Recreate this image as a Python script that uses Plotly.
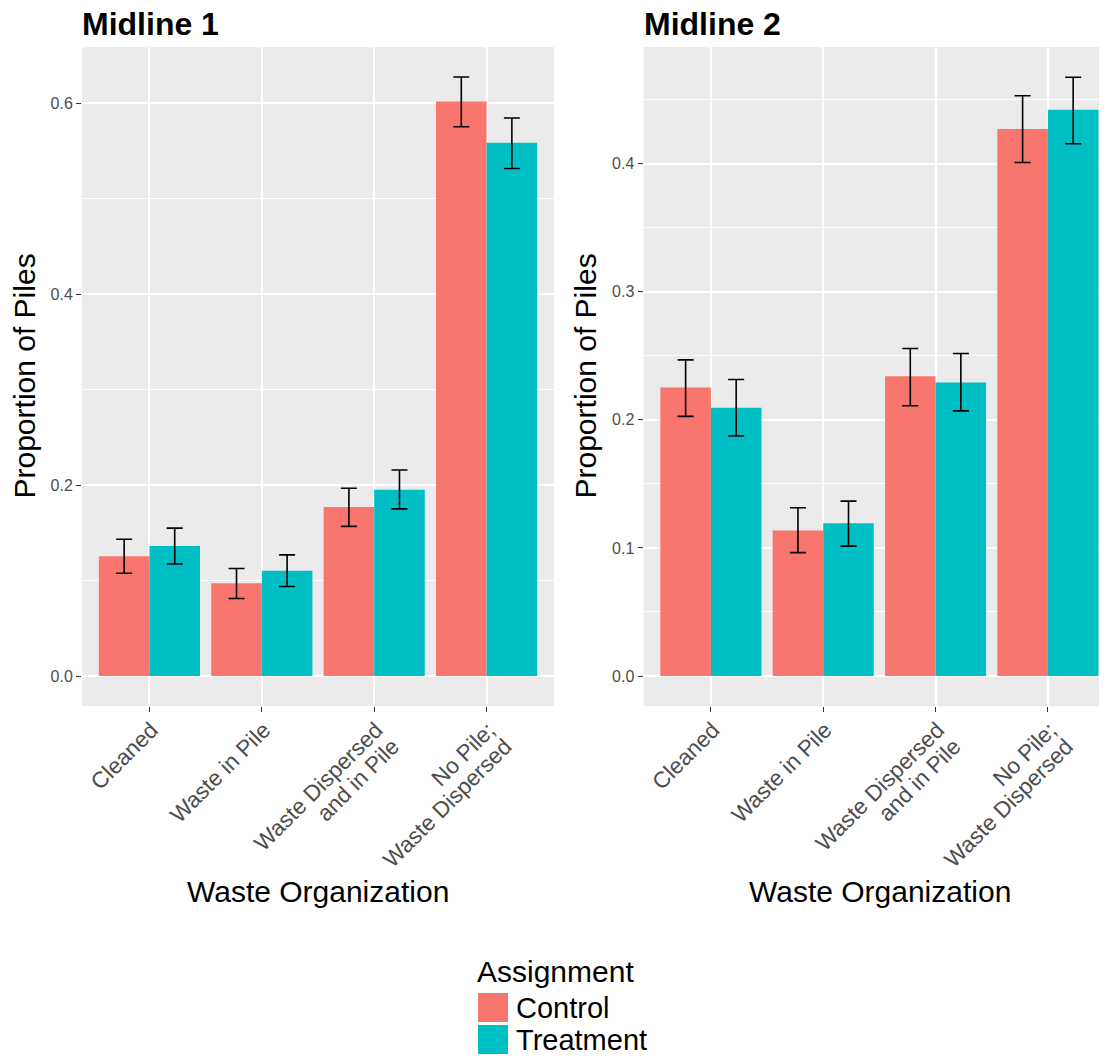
import plotly.graph_objects as go

categories = ["Cleaned", "Waste in Pile", "Waste Dispersed and in Pile", "No Pile; Waste Dispersed"]
label_line1 = ["Cleaned", "Waste in Pile", "Waste Dispersed", "No Pile;"]
label_line2 = ["", "", "and in Pile", "Waste Dispersed"]
groups = ["Control", "Treatment"]
panel_titles = ["Midline 1", "Midline 2"]

m1_control = [0.1256, 0.0972, 0.1770, 0.6020]
m1_control_lo = [0.1077, 0.0813, 0.1568, 0.5755]
m1_control_hi = [0.1433, 0.1126, 0.1967, 0.6275]
m1_treat = [0.1361, 0.1102, 0.1952, 0.5587]
m1_treat_lo = [0.1174, 0.0938, 0.1751, 0.5317]
m1_treat_hi = [0.1549, 0.1269, 0.2159, 0.5846]

m2_control = [0.2253, 0.1136, 0.2339, 0.4269]
m2_control_lo = [0.2027, 0.0963, 0.2110, 0.4008]
m2_control_hi = [0.2468, 0.1314, 0.2557, 0.4530]
m2_treat = [0.2095, 0.1193, 0.2292, 0.4420]
m2_treat_lo = [0.1874, 0.1014, 0.2070, 0.4155]
m2_treat_hi = [0.2314, 0.1365, 0.2518, 0.4674]

colors = ["#F8766D", "#00BFC4"]
FONT = "Liberation Sans, Arial, sans-serif"
OFF = 8  # page body margin
W, H = 1107 - OFF, 1059 - OFF
UNIT = 112.33  # px per category

def px(x):
    return (x - OFF) / W

def py(y):
    return 1 - (y - OFF) / H

fig = go.Figure()

panels = [
    [(m1_control, m1_control_lo, m1_control_hi), (m1_treat, m1_treat_lo, m1_treat_hi)],
    [(m2_control, m2_control_lo, m2_control_hi), (m2_treat, m2_treat_lo, m2_treat_hi)],
]

for p, series in enumerate(panels):
    xa = "x" if p == 0 else "x2"
    ya = "y" if p == 0 else "y2"
    for g, (mean, lo, hi) in enumerate(series):
        fig.add_trace(go.Bar(
            x=categories, y=mean, name=groups[g],
            marker=dict(color=colors[g], line=dict(width=0)),
            offsetgroup=str(g),
            error_y=dict(type="data", symmetric=False,
                         array=[h - m for h, m in zip(hi, mean)],
                         arrayminus=[m - l for m, l in zip(mean, lo)],
                         color="black", thickness=1.6, width=8),
            xaxis=xa, yaxis=ya, showlegend=False,
        ))

PANEL_BOTTOM = 706
ydom = [py(PANEL_BOTTOM), py(47)]
TICKFONT_X = dict(family=FONT, size=22.5, color="#4D4D4D")
SHIFT, STANDOFF, LINE = 2, -4, 16.5
common_x = dict(
    type="category", showgrid=True, gridcolor="white", gridwidth=1.6,
    zeroline=False, showline=False, ticks="outside", ticklen=5, tickwidth=1.1,
    tickcolor="#333333", tickangle=-45, automargin=False,
    tickmode="array", tickvals=categories, ticktext=label_line1,
    ticklabelshift=SHIFT, ticklabelstandoff=STANDOFF,
    tickfont=TICKFONT_X,
)
second_x = dict(
    type="linear", showgrid=False, zeroline=False, showline=False,
    ticks="outside", ticklen=5, tickwidth=1.1, tickcolor="rgba(0,0,0,0)", tickangle=-45,
    automargin=False, tickmode="array", tickvals=list(range(len(categories))),
    ticktext=label_line2, ticklabelshift=SHIFT, ticklabelstandoff=STANDOFF,
    tickfont=TICKFONT_X, fixedrange=True, anchor="free", position=py(PANEL_BOTTOM + LINE),
)
common_y = dict(
    showgrid=True, gridcolor="white", gridwidth=1.6, zeroline=False, showline=False,
    ticks="outside", ticklen=5, tickwidth=1.1, tickcolor="#333333",
    tickformat=".1f", automargin=False, tick0=0,
    tickfont=dict(family=FONT, size=16, color="#4D4D4D"),
    domain=ydom,
)

x2_left = 643.5
dom1 = [px(82), px(554)]
dom2 = [px(x2_left), 1.0]
rng1 = [-0.6, 3.6]
rng2 = [-0.6, -0.6 + (1107 - x2_left) / UNIT]
sh = LINE / UNIT
fig.update_layout(
    width=W, height=H,
    margin=dict(l=0, r=0, t=0, b=0),
    paper_bgcolor="white", plot_bgcolor="#EBEBEB",
    barmode="group", bargap=0.1, bargroupgap=0,
    font=dict(family=FONT),
    xaxis=dict(common_x, domain=dom1, range=rng1, anchor="y"),
    xaxis2=dict(common_x, domain=dom2, range=rng2, anchor="y2"),
    xaxis3=dict(second_x, domain=dom1, range=[rng1[0] - sh, rng1[1] - sh], overlaying="x"),
    xaxis4=dict(second_x, domain=dom2, range=[rng2[0] - sh, rng2[1] - sh], overlaying="x2"),
    yaxis=dict(common_y, anchor="x", range=[-0.0314, 0.659], dtick=0.2,
               minor=dict(dtick=0.1, showgrid=True, gridcolor="white", gridwidth=0.8, ticks="")),
    yaxis2=dict(common_y, anchor="x2", range=[-0.0234, 0.491], dtick=0.1,
                minor=dict(dtick=0.05, showgrid=True, gridcolor="white", gridwidth=0.8, ticks="")),
)
for xa, ya in [("x3", "y"), ("x4", "y2")]:
    fig.add_trace(go.Scatter(x=[None], y=[None], xaxis=xa, yaxis=ya, showlegend=False,
                             hoverinfo="skip", mode="markers"))

ann = []
for x0, t in zip([82, x2_left], panel_titles):
    ann.append(dict(text="<b>" + t + "</b>", x=px(x0 - 2), y=py(35.5 - 0.35 * 32), xref="paper", yref="paper",
                    xanchor="left", yanchor="middle", showarrow=False,
                    font=dict(family=FONT, size=32, color="black")))
for xc in [24, 585]:
    ann.append(dict(text="Proportion of Piles", x=px(xc), y=py(376.5), xref="paper", yref="paper",
                    xanchor="center", yanchor="middle", textangle=-90, showarrow=False,
                    font=dict(family=FONT, size=30, color="black")))
for xc in [318, 879.5]:
    ann.append(dict(text="Waste Organization", x=px(xc), y=py(902 - 0.35 * 30), xref="paper", yref="paper",
                    xanchor="center", yanchor="middle", showarrow=False,
                    font=dict(family=FONT, size=30, color="black")))
ann.append(dict(text="Assignment", x=px(475), y=py(982 - 0.35 * 30), xref="paper", yref="paper",
                xanchor="left", yanchor="middle", showarrow=False,
                font=dict(family=FONT, size=30, color="black")))
shapes = []
key_tops = [993, 1025]
for g, top in enumerate(key_tops):
    shapes.append(dict(type="rect", xref="paper", yref="paper",
                       x0=px(478), x1=px(508), y0=py(top + 29), y1=py(top),
                       fillcolor=colors[g], line=dict(width=0)))
    ann.append(dict(text=groups[g], x=px(514), y=py(top + 25 - 0.35 * 29), xref="paper", yref="paper",
                    xanchor="left", yanchor="middle", showarrow=False,
                    font=dict(family=FONT, size=29, color="black")))

fig.update_layout(annotations=ann, shapes=shapes)
fig.write_html("out.html")
